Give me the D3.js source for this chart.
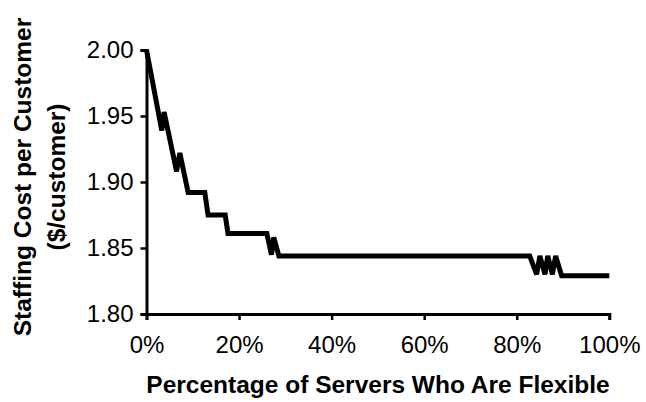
<!DOCTYPE html>
<html>
<head>
<meta charset="utf-8">
<script src="https://cdn.jsdelivr.net/npm/d3@7"></script>
<style>
  html, body { margin: 0; padding: 0; background: #fff; }
  svg { display: block; }
  text { font-family: "Liberation Sans", Arial, sans-serif; fill: #000; }
</style>
</head>
<body>
<script>
// Data
const flexiblePct = [0, 3.3, 3.8, 6.5, 7.2, 9.0, 12.6, 13.3, 17.0, 17.6, 26.0, 27.0, 27.5, 28.6, 82.8, 84.3, 85.0, 86.1, 86.7, 87.7, 88.4, 89.7, 100];
const staffingCost = [2.000, 1.939, 1.953, 1.908, 1.922, 1.892, 1.892, 1.875, 1.875, 1.861, 1.861, 1.845, 1.858, 1.844, 1.844, 1.830, 1.844, 1.830, 1.844, 1.830, 1.844, 1.829, 1.829];
const xTicks = [0, 20, 40, 60, 80, 100];
const yTicks = [1.80, 1.85, 1.90, 1.95, 2.00];
const xTitle = "Percentage of Servers Who Are Flexible";
const yTitleLines = ["Staffing Cost per Customer", "($/customer)"];

const W = 646, H = 402;
const svg = d3.select("body").append("svg").attr("width", W).attr("height", H);

const x = d3.scaleLinear().domain([0, 100]).range([146.5, 609.3]);
const y = d3.scaleLinear().domain([1.80, 2.00]).range([314, 50]);

const xAxis = svg.append("g")
  .attr("transform", `translate(0,${y(1.80)})`)
  .call(d3.axisBottom(x).tickValues(xTicks).tickFormat(d => d + "%").tickSizeOuter(0).tickSize(6).tickPadding(16));
const yAxis = svg.append("g")
  .attr("transform", `translate(${x(0)},0)`)
  .call(d3.axisLeft(y).tickValues(yTicks).tickFormat(d3.format(".2f")).tickSizeOuter(0).tickSize(6).tickPadding(7));

[xAxis, yAxis].forEach(g => {
  g.select(".domain").attr("stroke", "#000").attr("stroke-width", 3);
  g.selectAll(".tick line").attr("stroke", "#000").attr("stroke-width", 2.5);
  g.selectAll(".tick text").attr("font-size", 24).attr("fill", "#000")
    .style("font-family", '"Liberation Sans", Arial, sans-serif');
});

const line = d3.line()
  .x((d, i) => x(flexiblePct[i]))
  .y(d => y(d));

svg.append("path")
  .datum(staffingCost)
  .attr("fill", "none")
  .attr("stroke", "#000")
  .attr("stroke-width", 5)
  .attr("stroke-linejoin", "miter")
  .attr("stroke-miterlimit", 2)
  .attr("d", line);

svg.append("text")
  .attr("x", 378).attr("y", 393)
  .attr("text-anchor", "middle")
  .attr("font-size", 24.5).attr("font-weight", "bold")
  .text(xTitle);

const yt = svg.append("text")
  .attr("transform", `translate(0,177) rotate(-90)`)
  .attr("text-anchor", "middle")
  .attr("font-size", 24.5).attr("font-weight", "bold");
yTitleLines.forEach((t, i) => {
  yt.append("tspan").attr("x", 0).attr("y", 31 + i * 34).text(t);
});
</script>
</body>
</html>
